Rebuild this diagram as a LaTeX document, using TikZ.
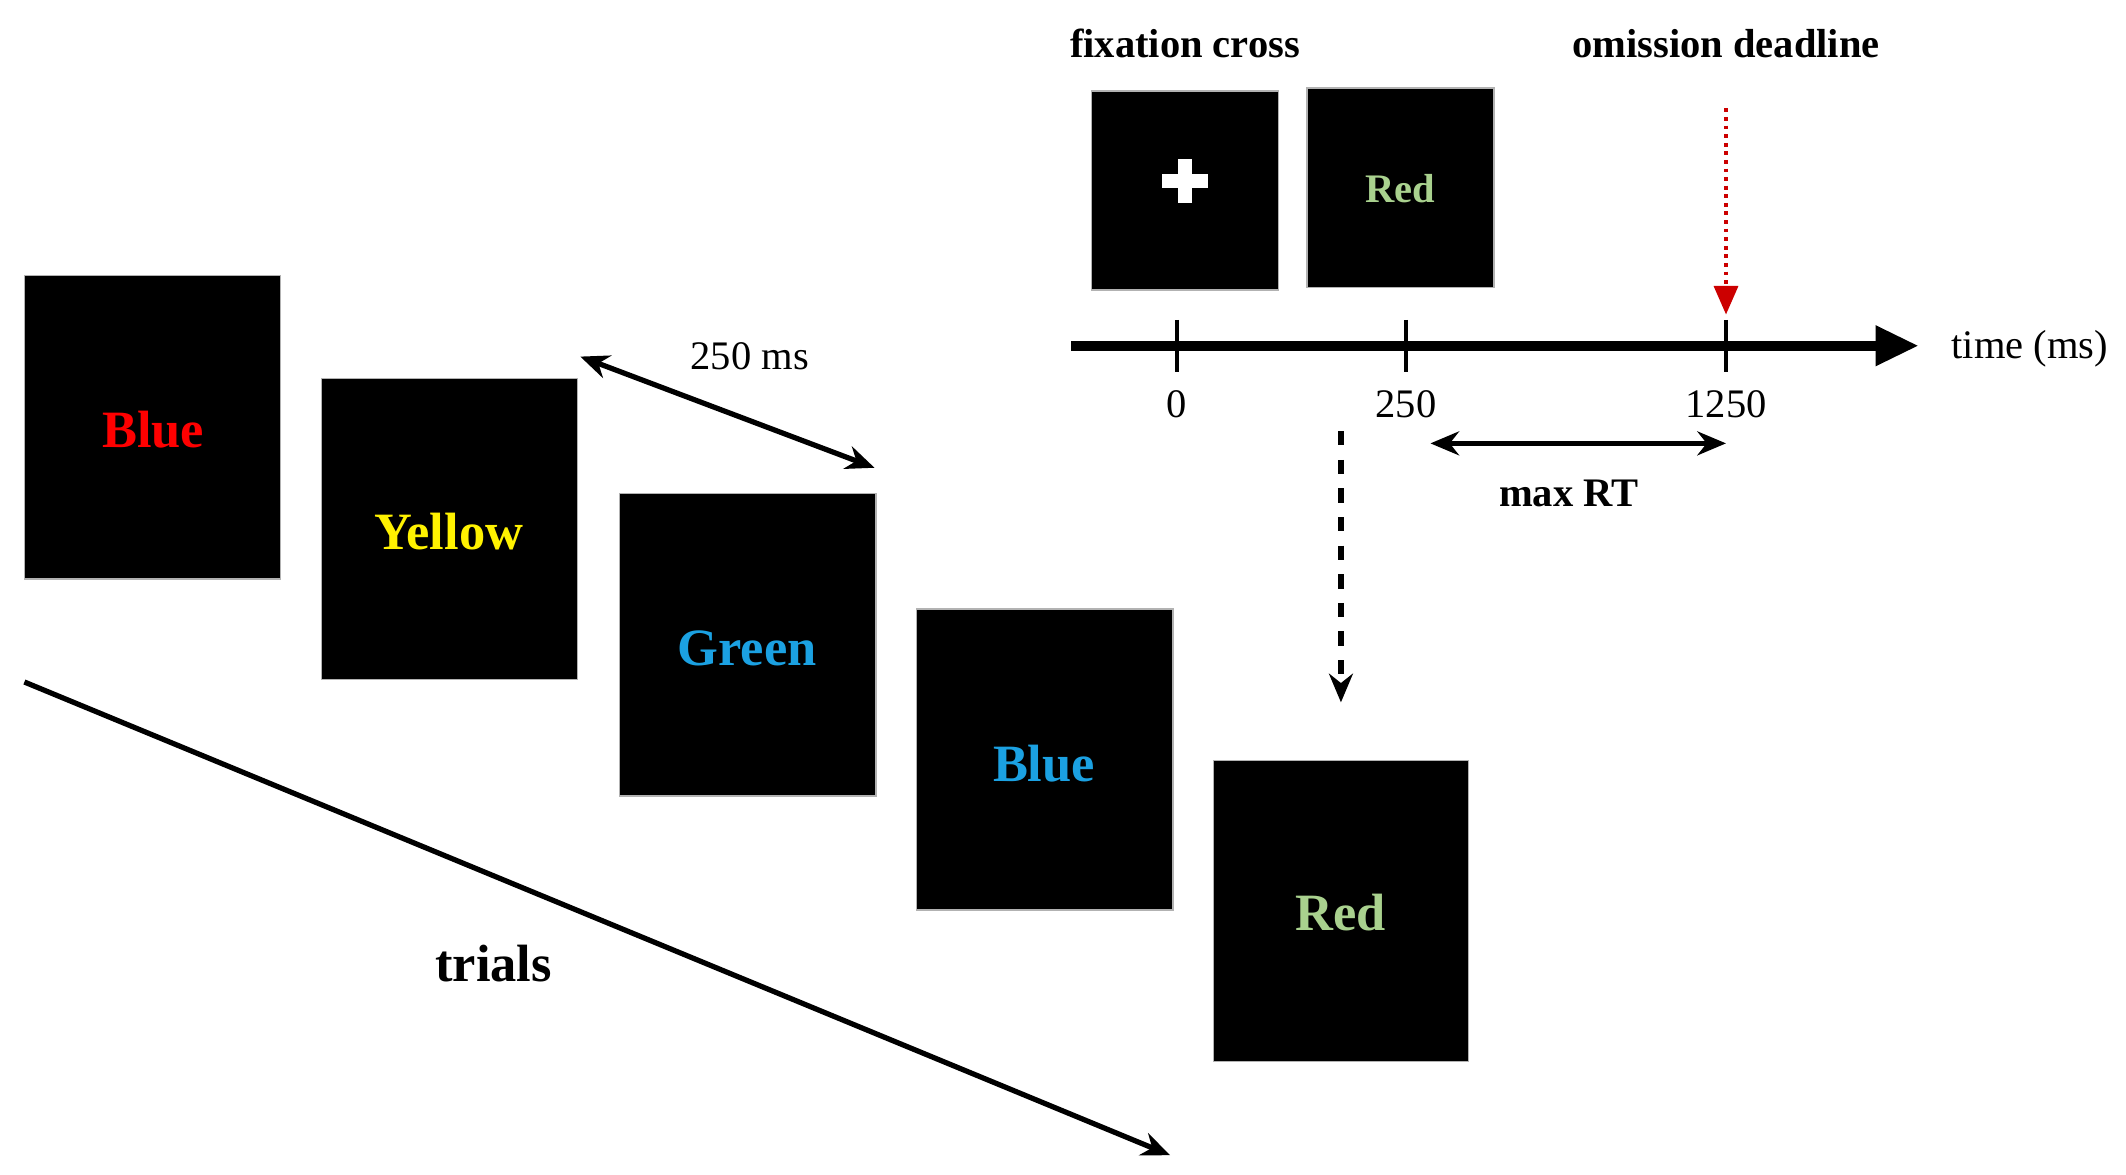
\documentclass[tikz,border=0pt]{standalone}
\usepackage{fontspec}
\setmainfont{Liberation Serif}
\usetikzlibrary{arrows.meta}
\definecolor{cblue}{HTML}{1BA1E2}
\definecolor{cgreen}{HTML}{A9D18E}
\begin{document}
\begin{tikzpicture}[x=0.01cm,y=-0.01cm,
  card/.style={fill=black,draw=gray!60,line width=0.3pt},
  big/.style={font=\fontsize{11}{13}\selectfont\bfseries},
  small/.style={font=\fontsize{8.5}{10}\selectfont},
  arr/.style={line width=1.1pt,-{Stealth[length=6pt,width=5pt]}},
  darr/.style={line width=1.1pt,{Stealth[length=6pt,width=5pt]}-{Stealth[length=6pt,width=5pt]}}]
\useasboundingbox (0,0) rectangle (1568,866);
\fill[card] (18,203) rectangle (207,427);
\node[big,text=red] (t1) at (113,317) {Blue};
\fill[card] (237,279) rectangle (426,501);
\node[big,text=yellow] (t2) at (331,392) {Yellow};
\fill[card] (457,364) rectangle (646,587);
\node[big,text=cblue] (t3) at (551,478) {Green};
\fill[card] (676,449) rectangle (865,671);
\node[big,text=cblue] (t4) at (770,563) {Blue};
\fill[card] (895,561) rectangle (1083,783);
\node[big,text=cgreen] (t5) at (989,673) {Red};
\fill[card] (805,67) rectangle (943,214);
\fill[white] (869,117) rectangle (879,150);
\fill[white] (857,128) rectangle (891,139);
\fill[card] (964,65) rectangle (1102,212);
\node[small,font=\fontsize{8.5}{10}\selectfont\bfseries,text=cgreen] (t6) at (1033,139) {Red};
\node[small,font=\fontsize{8.5}{10}\selectfont\bfseries] (l1) at (874,32) {fixation cross};
\node[small,font=\fontsize{8.5}{10}\selectfont\bfseries] (l2) at (1273,32) {omission deadline};
\coordinate (a0) at (790,255); \coordinate (a1) at (1415,255);
\draw[line width=2pt,-{Triangle[length=9pt,width=8pt]}] (a0) -- (a1);
\foreach \x/\l in {868/0,1037/250,1273/1250}{
  \draw[line width=0.8pt] (\x,236) -- (\x,274);
  \node[small] at (\x,298) {\l};}
\node[small] (tm) at (1497,257) {time (ms)};
\coordinate (r0) at (1273,80); \coordinate (r1) at (1273,232);
\draw[red!80!black,densely dotted,line width=0.8pt,-{Triangle[length=6pt,width=5pt]}] (r0) -- (r1);
\coordinate (m0) at (1055,327); \coordinate (m1) at (1273,327);
\draw[darr] (m0) -- (m1);
\node[small,font=\fontsize{8.5}{10}\selectfont\bfseries] (mrt) at (1157,364) {max RT};
\coordinate (d0) at (989,318); \coordinate (d1) at (989,518);
\draw[arr,dashed] (d0) -- (d1);
\coordinate (s0) at (428,263); \coordinate (s1) at (645,345);
\draw[darr] (s0) -- (s1);
\node[small] (ms) at (553,263) {250 ms};
\coordinate (tr0) at (18,503); \coordinate (tr1) at (863,852);
\draw[arr] (tr0) -- (tr1);
\node[big] (trl) at (364,711) {trials};
\end{tikzpicture}
\end{document}
